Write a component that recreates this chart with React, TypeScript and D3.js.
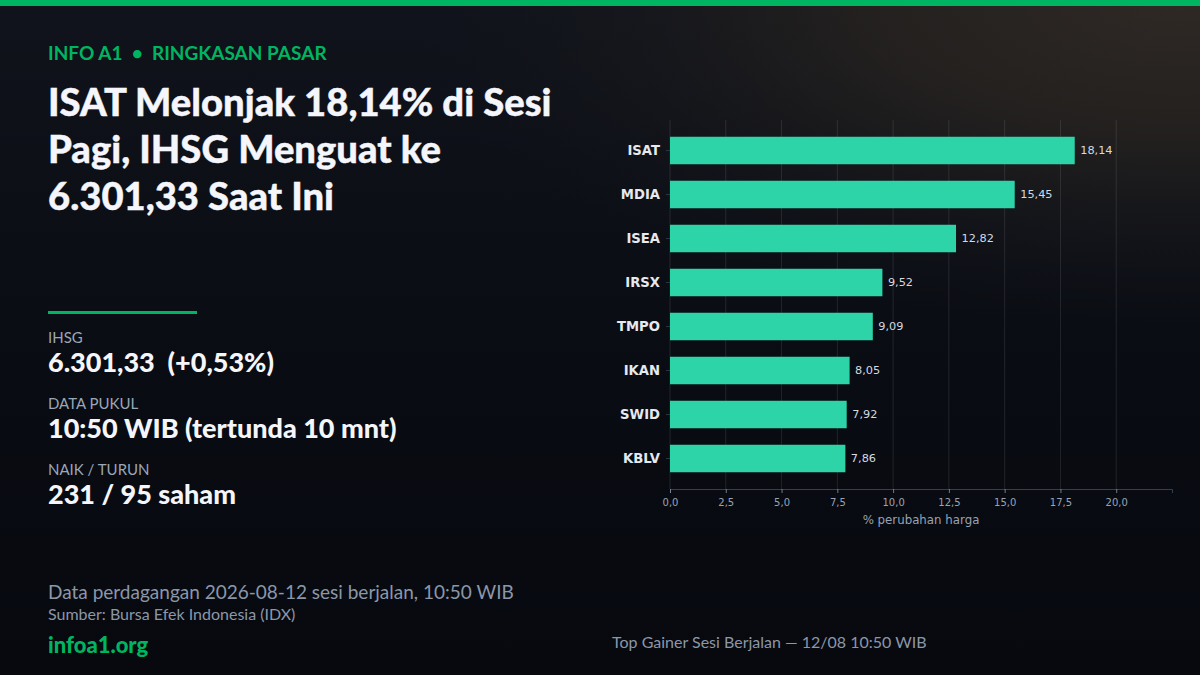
import React, { useEffect, useRef } from "react";
import * as d3 from "d3";

const tickers = ["ISAT", "MDIA", "ISEA", "IRSX", "TMPO", "IKAN", "SWID", "KBLV"];
const changes = [18.14, 15.45, 12.82, 9.52, 9.09, 8.05, 7.92, 7.86];
const xTicks = [0, 2.5, 5, 7.5, 10, 12.5, 15, 17.5, 20];
const titleLines = ["ISAT Melonjak 18,14% di Sesi", "Pagi, IHSG Menguat ke", "6.301,33 Saat Ini"];
const statLabels = ["IHSG", "DATA PUKUL", "NAIK / TURUN"];
const statValues = ["6.301,33  (+0,53%)", "10:50 WIB (tertunda 10 mnt)", "231 / 95 saham"];

const W = 1200;
const H = 675;
const GREEN = "#00b562";
const BAR = "#2dd4a8";
const LATO = "Lato, sans-serif";
const DEJAVU = "'DejaVu Sans', sans-serif";

const comma = (v: number, digits: number) => v.toFixed(digits).replace(".", ",");

const App: React.FC = () => {
  const svgRef = useRef<SVGSVGElement | null>(null);

  useEffect(() => {
    document.body.style.margin = "0";
    document.body.style.background = "#07090f";

    const svg = d3.select(svgRef.current);
    svg.selectAll("*").remove();

    // Background: dark blue base with a warm glow along the top right
    const defs = svg.append("defs");
    const base = defs
      .append("linearGradient")
      .attr("id", "base")
      .attr("x1", 0)
      .attr("y1", 0)
      .attr("x2", 0)
      .attr("y2", 1);
    base.append("stop").attr("offset", 0).attr("stop-color", "#10131b");
    base.append("stop").attr("offset", 0.55).attr("stop-color", "#0a0c13");
    base.append("stop").attr("offset", 1).attr("stop-color", "#07090f");

    const glow = defs
      .append("radialGradient")
      .attr("id", "glow")
      .attr("gradientUnits", "userSpaceOnUse")
      .attr("gradientTransform", "translate(1180,0) scale(1,0.42)")
      .attr("cx", 0)
      .attr("cy", 0)
      .attr("r", 780);
    glow.append("stop").attr("offset", 0).attr("stop-color", "#2f2925").attr("stop-opacity", 1);
    glow.append("stop").attr("offset", 0.42).attr("stop-color", "#24211f").attr("stop-opacity", 0.92);
    glow.append("stop").attr("offset", 1).attr("stop-color", "#14161c").attr("stop-opacity", 0);

    svg.append("rect").attr("width", W).attr("height", H).attr("fill", "url(#base)");
    svg.append("rect").attr("width", W).attr("height", H).attr("fill", "url(#glow)");
    svg.append("rect").attr("width", W).attr("height", 6).attr("fill", GREEN);

    // Left column text
    const left = svg.append("g").attr("font-family", LATO);
    left
      .append("text")
      .attr("x", 48)
      .attr("y", 60)
      .attr("font-size", 19)
      .attr("font-weight", 700)
      .attr("fill", GREEN)
      .style("white-space", "pre")
      .text("INFO A1  •  RINGKASAN PASAR");

    left
      .selectAll("text.title")
      .data(titleLines)
      .join("text")
      .attr("class", "title")
      .attr("x", 48)
      .attr("y", (_, i) => 116 + i * 47)
      .attr("font-size", 38.2)
      .attr("font-weight", 900)
      .attr("fill", "#f4f6fb")
      .attr("stroke", "#f4f6fb")
      .attr("stroke-width", 0.4)
      .text((d) => d);

    left.append("rect").attr("x", 48).attr("y", 311).attr("width", 149).attr("height", 3).attr("fill", GREEN);

    left
      .selectAll("text.stat-label")
      .data(statLabels)
      .join("text")
      .attr("class", "stat-label")
      .attr("x", 48)
      .attr("y", (_, i) => 343 + i * 66)
      .attr("font-size", 15)
      .attr("fill", "#9aa7b8")
      .text((d) => d);

    left
      .selectAll("text.stat-value")
      .data(statValues)
      .join("text")
      .attr("class", "stat-value")
      .attr("x", 48)
      .attr("y", (_, i) => 372 + i * 66)
      .attr("font-size", 27)
      .attr("font-weight", 900)
      .attr("fill", "#f4f6fb")
      .style("white-space", "pre")
      .text((d) => d);

    left
      .append("text")
      .attr("x", 48)
      .attr("y", 599)
      .attr("font-size", 19)
      .attr("fill", "#8b97a8")
      .text("Data perdagangan 2026-08-12 sesi berjalan, 10:50 WIB");
    left
      .append("text")
      .attr("x", 48)
      .attr("y", 620)
      .attr("font-size", 16)
      .attr("fill", "#8b97a8")
      .text("Sumber: Bursa Efek Indonesia (IDX)");
    left
      .append("text")
      .attr("x", 48)
      .attr("y", 653)
      .attr("font-size", 22)
      .attr("font-weight", 900)
      .attr("fill", GREEN)
      .text("infoa1.org");
    left
      .append("text")
      .attr("x", 612)
      .attr("y", 648)
      .attr("font-size", 16)
      .attr("fill", "#8b97a8")
      .text("Top Gainer Sesi Berjalan — 12/08 10:50 WIB");

    // Chart
    const xScale = d3.scaleLinear().domain([0, 22.5]).range([670, 1172]);
    const yScale = d3
      .scaleBand<string>()
      .domain(tickers)
      .range([128.5, 480.5])
      .paddingInner(0.375)
      .paddingOuter(0.1875);
    const plotTop = 120;
    const plotBottom = 489;

    const chart = svg.append("g").attr("font-family", DEJAVU);

    chart
      .selectAll("line.grid")
      .data(xTicks)
      .join("line")
      .attr("class", "grid")
      .attr("x1", (d) => xScale(d))
      .attr("x2", (d) => xScale(d))
      .attr("y1", plotTop)
      .attr("y2", plotBottom)
      .attr("stroke", "#ffffff")
      .attr("stroke-opacity", 0.13)
      .attr("stroke-width", 0.8);

    chart
      .selectAll("rect.bar")
      .data(changes)
      .join("rect")
      .attr("class", "bar")
      .attr("x", xScale(0))
      .attr("y", (_, i) => yScale(tickers[i]) as number)
      .attr("width", (d) => xScale(d) - xScale(0))
      .attr("height", yScale.bandwidth())
      .attr("fill", BAR);

    chart
      .selectAll("text.value")
      .data(changes)
      .join("text")
      .attr("class", "value")
      .attr("x", (d) => xScale(d) + 5.5)
      .attr("y", (_, i) => (yScale(tickers[i]) as number) + yScale.bandwidth() / 2 + 3)
      .attr("font-size", 11.3)
      .attr("fill", "#d5dae2")
      .text((d) => comma(d, 2));

    const xAxis = chart
      .append("g")
      .attr("transform", `translate(0,${plotBottom})`)
      .call(
        d3
          .axisBottom(xScale)
          .tickValues(xTicks)
          .tickSize(4)
          .tickPadding(6)
          .tickFormat((d) => comma(+d, 1))
      );
    xAxis.select(".domain").attr("stroke", "#33404d").attr("stroke-width", 1);
    xAxis.selectAll(".tick line").attr("stroke", "#8b97a8").attr("stroke-width", 0.8);
    xAxis
      .selectAll("text")
      .attr("font-family", DEJAVU)
      .attr("font-size", 10)
      .attr("fill", "#98a3b3");

    const yAxis = chart
      .append("g")
      .attr("transform", `translate(${xScale(0)},0)`)
      .call(d3.axisLeft(yScale).tickSize(4).tickPadding(6));
    yAxis.select(".domain").remove();
    yAxis.selectAll(".tick line").attr("stroke", "#33404d").attr("stroke-width", 0.8);
    yAxis
      .selectAll("text")
      .attr("font-family", DEJAVU)
      .attr("font-size", 13.2)
      .attr("font-weight", 700)
      .attr("dy", "0.36em")
      .attr("fill", "#e6e9ef");

    chart
      .append("text")
      .attr("x", 921)
      .attr("y", 524)
      .attr("text-anchor", "middle")
      .attr("font-size", 11.8)
      .attr("fill", "#98a3b3")
      .text("% perubahan harga");
  }, []);

  return (
    <svg
      ref={svgRef}
      width={W}
      height={H}
      style={{ display: "block", position: "absolute", left: 0, top: 0 }}
    ></svg>
  );
};

export default App;
